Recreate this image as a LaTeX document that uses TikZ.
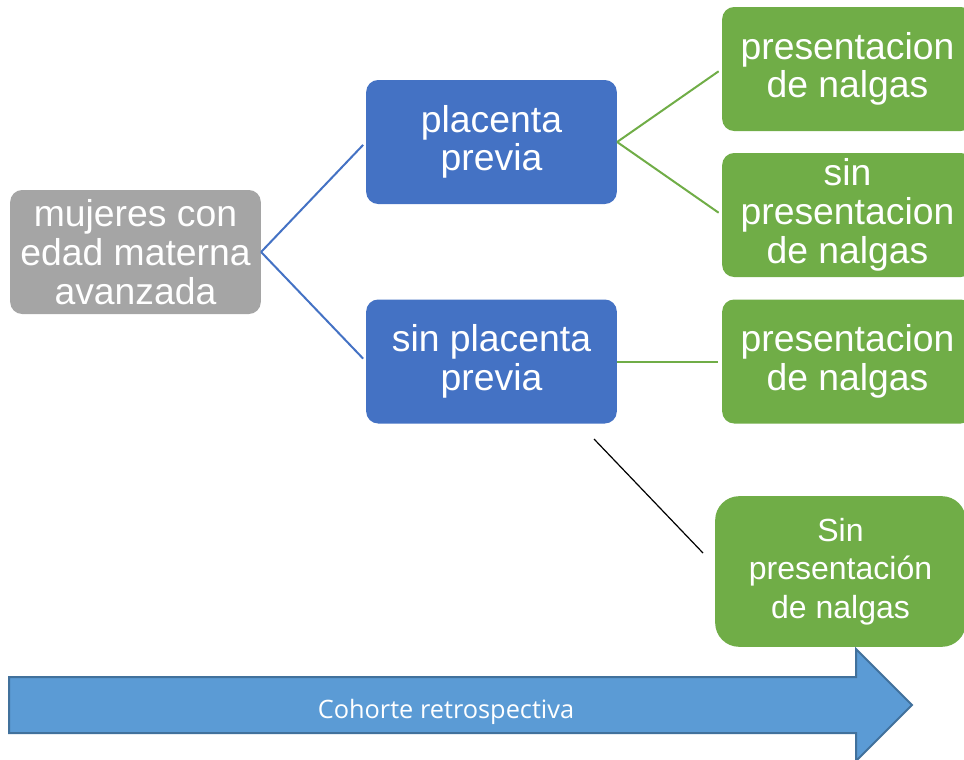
\documentclass[tikz,border=0pt]{standalone}
\usepackage{fontspec}
\setmainfont{Liberation Sans}
\newfontfamily\arrowfont{Open Sans}
\definecolor{grisbox}{HTML}{A5A5A5}
\definecolor{azulbox}{HTML}{4472C4}
\definecolor{verdebox}{HTML}{70AD47}
\definecolor{flecha}{HTML}{5B9BD5}
\definecolor{flechaborde}{HTML}{41719C}
\tikzset{
  caja/.style={rounded corners=9pt, text=white, align=center,
    minimum width=188pt, minimum height=93pt, inner sep=0pt,
    font=\fontsize{28}{29}\selectfont},
  rama/.style={line width=1.5pt, shorten >=3pt}
}

\begin{document}
\begin{tikzpicture}[x=0.75pt,y=-0.75pt]
  \useasboundingbox (0,0) rectangle (964,760);
  \node[caja, fill=grisbox] (mujeres) at (135.5,252) {mujeres con\\edad materna\\avanzada};
  \node[caja, fill=azulbox] (pp) at (491.5,142) {placenta\\previa};
  \node[caja, fill=azulbox] (sinpp) at (491.5,361.5) {sin placenta\\previa};
  \node[caja, fill=verdebox] (ppnal) at (847.5,69) {presentacion\\de nalgas};
  \node[caja, fill=verdebox] (ppsinnal) at (847.5,215) {sin\\presentacion\\de nalgas};
  \node[caja, fill=verdebox] (sinppnal) at (847.5,361.5) {presentacion\\de nalgas};
  \node[caja, fill=verdebox, rounded corners=18pt, minimum height=113pt,
    font=\fontsize{24}{29}\selectfont] (sinppsinnal) at (840.5,571.5) {Sin\\presentación\\de nalgas};
  \draw[rama, azulbox] (mujeres.east) -- (pp.west);
  \draw[rama, azulbox] (mujeres.east) -- (sinpp.west);
  \draw[rama, verdebox] (pp.east) -- (ppnal.west);
  \draw[rama, verdebox] (pp.east) -- (ppsinnal.west);
  \draw[rama, verdebox] (sinpp.east) -- (sinppnal.west);
  \coordinate (lineaA) at (594,439);
  \coordinate (lineaB) at (703,553);
  \draw[line width=0.9pt] (lineaA) -- (lineaB);
  \draw[fill=flecha, draw=flechaborde, line width=1.5pt]
    (9,677) -- (856,677) -- (856,649) -- (912,705) -- (856,761) -- (856,733) -- (9,733) -- cycle;
  \node[text=white, font=\arrowfont\fontsize{19}{22}\selectfont] (cohorte) at (446,712) {Cohorte retrospectiva};
\end{tikzpicture}
\end{document}
